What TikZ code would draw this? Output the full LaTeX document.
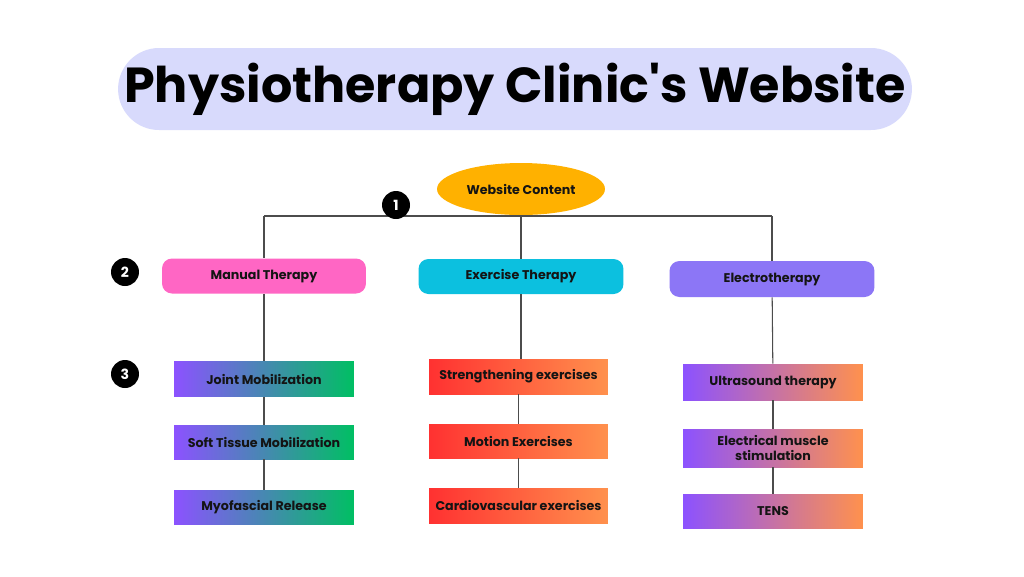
\documentclass[tikz,border=0pt]{standalone}
\usepackage{fontspec}
\setmainfont{Poppins}
\newfontfamily\titlefont{Poppins}
\usetikzlibrary{shapes.geometric}

\definecolor{titlebg}{RGB}{216,218,252}
\definecolor{rootyellow}{RGB}{255,177,0}
\definecolor{manualpink}{RGB}{255,102,196}
\definecolor{exercisecyan}{RGB}{12,192,223}
\definecolor{electropurple}{RGB}{140,118,246}
\definecolor{gradpurple}{RGB}{140,82,255}
\definecolor{gradgreen}{RGB}{0,191,99}
\definecolor{gradred}{RGB}{255,49,49}
\definecolor{gradorange}{RGB}{255,145,77}
\definecolor{inkdark}{RGB}{20,20,20}

\tikzset{
  link/.style={draw=black!70, line width=0.6pt},
  marker/.style={circle, fill=black, text=white, minimum size=0.56cm, inner sep=0pt, font=\fontsize{8}{9}\selectfont\bfseries},
  category/.style={rounded corners=0.2cm, minimum width=4.08cm, minimum height=0.7cm, inner sep=0pt, text=inkdark, font=\fontsize{7.2}{9}\selectfont\bfseries},
  leaf/.style={minimum width=3.6cm, minimum height=0.7cm, inner sep=0pt, align=center, text=inkdark, font=\fontsize{7.2}{8.6}\selectfont\bfseries},
  manualleaf/.style={leaf, left color=gradpurple, right color=gradgreen},
  exerciseleaf/.style={leaf, left color=gradred, right color=gradorange},
  electroleaf/.style={leaf, left color=gradpurple, right color=gradorange},
}

\begin{document}
\begin{tikzpicture}[x=0.02cm, y=-0.02cm]
  \useasboundingbox[fill=white] (0,0) rectangle (1024,576);

  % title
  \node[fill=titlebg, rounded corners=0.82cm, minimum width=15.88cm, minimum height=1.64cm,
        font=\titlefont\fontsize{28}{32}\selectfont\bfseries] (title) at (515,89) {Physiotherapy Clinic's Website};

  % level 1
  \node[ellipse, fill=rootyellow, minimum width=3.36cm, minimum height=1.04cm, inner sep=0pt,
        font=\fontsize{7.2}{9}\selectfont\bfseries, text=inkdark] (root) at (521,189) {Website Content};
  \coordinate (busL) at (264,216);
  \coordinate (busR) at (772,216);

  % level 2
  \node[category, fill=manualpink] (manual) at (264,276) {Manual Therapy};
  \node[category, fill=exercisecyan, minimum width=4.1cm] (exercise) at (521,276.5) {Exercise Therapy};
  \node[category, fill=electropurple, minimum width=4.1cm, minimum height=0.72cm] (electro) at (772,279) {Electrotherapy};

  % level 3
  \node[manualleaf] (joint) at (264,379) {Joint Mobilization};
  \node[manualleaf, minimum height=0.68cm] (soft) at (264,442) {Soft Tissue Mobilization};
  \node[manualleaf, minimum height=0.68cm] (myo) at (264,507) {Myofascial Release};

  \node[exerciseleaf, minimum width=3.58cm] (strength) at (518.5,376.5) {Strengthening exercises};
  \node[exerciseleaf, minimum width=3.58cm, minimum height=0.68cm] (motion) at (518.5,441) {Motion Exercises};
  \node[exerciseleaf, minimum width=3.58cm] (cardio) at (518.5,505.5) {Cardiovascular exercises};

  \node[electroleaf, minimum height=0.72cm] (ultra) at (773,382) {Ultrasound therapy};
  \node[electroleaf, minimum height=0.76cm] (ems) at (773,448) {Electrical muscle\\stimulation};
  \node[electroleaf, minimum height=0.68cm] (tens) at (773,511) {TENS};

  % connectors
  \draw[link] (busL) -- (busR);
  \draw[link] (busL) -- (manual);
  \draw[link] (busR) -- (electro);
  \draw[link] (root) -- (exercise);
  \draw[link] (manual) -- (joint);
  \draw[link] (joint) -- (soft);
  \draw[link] (soft) -- (myo);
  \draw[link] (exercise.south) -- (exercise.south |- strength.north);
  \draw[link] (strength) -- (motion);
  \draw[link] (motion) -- (cardio);
  \draw[link] (electro) -- (ultra);
  \draw[link] (ultra) -- (ems);
  \draw[link] (ems) -- (tens);

  % step markers
  \node[marker] (m1) at (396,205) {1};
  \node[marker] (m2) at (125,272) {2};
  \node[marker] (m3) at (125,374) {3};
\end{tikzpicture}
\end{document}
